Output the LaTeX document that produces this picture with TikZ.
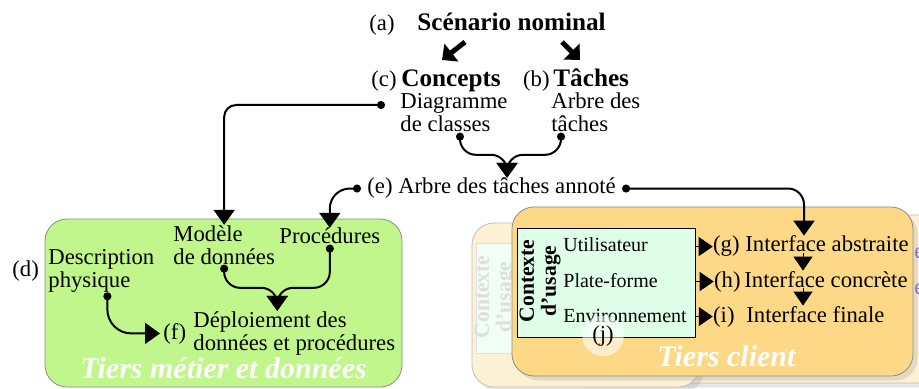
\documentclass[tikz,border=0pt]{standalone}
\usepackage{fontspec}
\setmainfont{Liberation Serif}
\usetikzlibrary{arrows.meta,positioning,shapes.geometric,shadows}
\definecolor{metier}{RGB}{192,246,140}
\definecolor{client}{RGB}{253,216,135}
\definecolor{clientbg}{RGB}{253,241,212}
\definecolor{usage}{RGB}{224,255,232}
\newcommand\diagfont{\fontsize{11.35}{11.5}\selectfont}
\newcommand\smallfont{\fontsize{10}{11}\selectfont}
\newcommand\headfont{\bfseries\fontsize{12.6}{13}\selectfont}
\newcommand\tierfont{\bfseries\itshape\fontsize{15}{15}\selectfont}

\begin{document}
\begin{tikzpicture}[x=0.5pt,y=-0.5pt,font=\diagfont,
    every node/.style={inner sep=0pt,anchor=base west},
    txt/.style={align=left},
    head/.style={font=\headfont},
    tier/.style={font=\tierfont,text=white},
    usage/.style={font=\smallfont},
    tierbox/.style={draw=black!45,rounded corners=11pt,anchor=center},
    ctxbox/.style={draw,anchor=center},
    ctxlbl/.style={rotate=90,anchor=center,align=center,font=\bfseries\fontsize{10.8}{11}\selectfont},
    link/.style={line width=1pt,rounded corners=8pt,{Circle[length=4pt]}-{Triangle[length=7.5pt,width=10.5pt]}},
    big/.style={line width=2.5pt,-{Triangle[length=6pt,width=11pt]}},
    tri/.style={-{Triangle[length=7pt,width=9.5pt]}}]
\useasboundingbox (0,0) rectangle (919,389);

% scenario, concepts, taches
\node[head] (scen) at (417,31) {Scénario nominal};
\node (la) [base left=11pt of scen] {(a)};
\node[head] (conc) at (401,87) {Concepts};
\node (lc) [base left=2pt of conc] {(c)};
\node[txt] (diag) at (400,132) {Diagramme\\de classes};
\node[head] (tach) at (553,87) {Tâches};
\node (lb) [base left=1.5pt of tach] {(b)};
\node[txt] (arb) at (551,132) {Arbre des\\tâches};
\node (ann) at (367,194) {(e) Arbre des tâches annoté};

% tiers metier et donnees
\node[tierbox,fill=metier,minimum width=178.5pt,minimum height=84pt] (metier) at (223.5,303) {};
\node (ld) at (12,277) {(d)};
\node[txt] (desc) at (48,287) {Description\\physique};
\node[txt] (mod) at (173,264) {Modèle\\de données};
\node (proc) at (279,244) {Procédures};
\node[txt] (depl) at (193,350) {Déploiement des\\données et procédures};
\node (lf) at (163,339) {(f)};
\node[tier] (tmet) at (80,378) {Tiers métier et données};

% tiers client
\node[tierbox,fill=clientbg,draw=black!25,minimum width=190pt,minimum height=84pt,
      drop shadow={opacity=.2}] (backr) at (750,299) {};
\node[tierbox,fill=clientbg,draw=black!25,minimum width=114pt,minimum height=82pt,
      drop shadow={opacity=.2}] (backl) at (586,305) {};
\node (e1) at (914,259) [text=blue!55] {e};
\node (e2) at (914,294) [text=blue!55] {e};
\node[ctxbox,draw=black!12,fill=usage!50,minimum width=32pt,minimum height=55pt] (ctxold) at (508,298) {};
\node[ctxlbl,text=black!13] (ctxoldlbl) at (495,297) {Contexte\\d'usage};
\node[tierbox,fill=client,minimum width=200.5pt,minimum height=84.5pt,
      drop shadow={opacity=.2}] (client) at (712.5,291.5) {};
\node[ctxbox,fill=usage,minimum width=89pt,minimum height=54.5pt] (ctx) at (606,282.5) {};
\node[ctxlbl] (usg) at (540,281) {Contexte\\d'usage};
\node[usage] (util) at (563,252) {Utilisateur};
\node[usage] (plat) at (563,287) {Plate-forme};
\node[usage] (env) at (563,322) {Environnement};
\node (ga) at (745,252) {Interface abstraite};
\node (hc) at (744,287) {Interface concrète};
\node (ifin) at (746,322) {Interface finale};
\node (lg) [base left=2.5pt of ga] {(g)};
\node (lh) [base left=1.5pt of hc] {(h)};
\node (li) [base left=5.5pt of ifin] {(i)};
\node[ellipse,fill=white,fill opacity=.55,text opacity=1,inner sep=2pt,anchor=center] (lj) at (603,336) {(j)};
\node[tier] (tcli) at (657,366) {Tiers client};

% connectors
\draw[big] ([xshift=24pt,yshift=-5.5pt]scen.base west) -- ([xshift=20.5pt,yshift=13.5pt]conc.base west);
\draw[big] ([xshift=72.5pt,yshift=-5.5pt]scen.base west) -- ([xshift=13.5pt,yshift=13.5pt]tach.base west);

\coordinate (m1) at ([xshift=7.75pt,yshift=11.5pt]ann.north);
\draw[link] ([xshift=3pt]diag.south) |- (m1) -- (m1 |- ann.north);
\draw[link] ([xshift=5pt]arb.south west) |- (m1) -- (m1 |- ann.north);

\draw[link,rounded corners=6pt] ([xshift=-7.5pt,yshift=13.5pt]diag.base west) -| (mod.north);
\draw[link,rounded corners=10pt] ([xshift=-3pt]ann.west) -| (proc.north);
\draw[link] ([xshift=3pt]ann.east) -| ([xshift=-11.5pt]ga.north);

\draw[link,rounded corners=12pt,shorten >=1.5pt] ([xshift=3pt]desc.south) |- (lf.west);
\coordinate (m2) at ([xshift=-8.5pt,yshift=11.5pt]depl.north);
\draw[link] (mod.south) |- (m2) -- (m2 |- depl.north);
\draw[link] (proc.south) |- (m2) -- (m2 |- depl.north);

\foreach \l in {lg,lh,li}
    \draw[tri] (ctx.east |- \l.west) -- (\l.west);
\draw[tri] ([xshift=-12pt]ga.south) -- ([xshift=-12pt]ga.south |- hc.north);
\draw[tri] ([xshift=-12pt]ga.south |- hc.south) -- ([xshift=-12pt]ga.south |- ifin.north);
\end{tikzpicture}
\end{document}
